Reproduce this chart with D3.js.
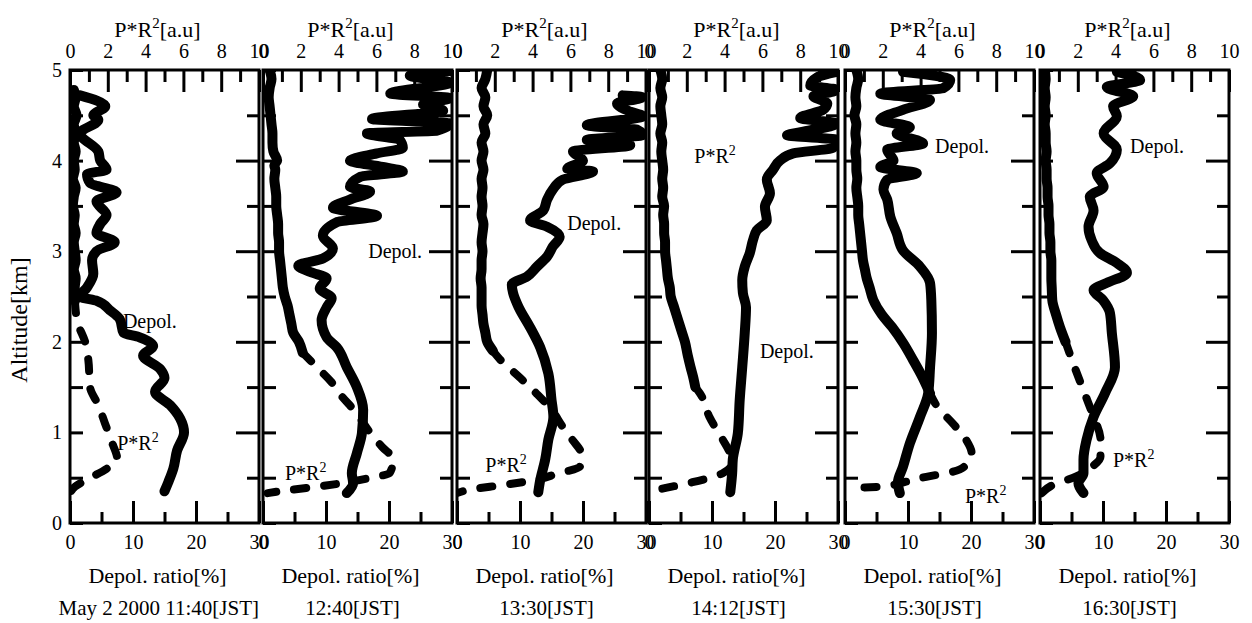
<!DOCTYPE html>
<html>
<head>
<meta charset="utf-8">
<script src="https://cdn.jsdelivr.net/npm/d3@7"></script>
<style>
	body { margin: 0; background: #fff; }
	svg { display: block; font-family: 'Liberation Serif', 'DejaVu Serif', serif; }
</style>
</head>
<body>
<div id="chart"><svg width="1252" height="623"></svg></div>
<script>
var times = ['May 2 2000 11:40[JST]', '12:40[JST]', '13:30[JST]', '14:12[JST]', '15:30[JST]', '16:30[JST]'];
var prTicks = [0, 2, 4, 6, 8, 10];
var prMinorTicks = [1, 3, 5, 7, 9];
var depolTicks = [0, 10, 20, 30];
var depolMinorTicks = [5, 15, 25];
var altTicks = [0, 1, 2, 3, 4, 5];
var altMinorTicks = [0.5, 1.5, 2.5, 3.5, 4.5];

// [altitude km, P*R2 a.u.]
var prSolid1 = [[4.78,0.2],[4.7,0.3],[4.6,0.2],[4.5,0.35],[4.4,0.2],[4.3,0.3],[4.2,0.2],[4.1,0.3],[4.0,0.2],[3.9,0.25],[3.8,0.15],[3.7,0.3],[3.6,0.2],[3.5,0.15],[3.4,0.25],[3.3,0.2],[3.2,0.3],[3.1,0.2],[3.0,0.25],[2.9,0.3],[2.8,0.2],[2.7,0.3],[2.6,0.25],[2.5,0.3],[2.45,0.26]];
var prDash1 = [[2.45,0.26],[2.2,0.42],[2.0,0.8],[1.8,0.97],[1.5,1.06],[1.3,1.5],[1.1,1.85],[0.9,2.2],[0.7,2.5],[0.6,1.95],[0.48,0.9],[0.4,0.26],[0.33,0]];
var prSolid2 = [[5.0,0.35],[4.9,0.45],[4.8,0.35],[4.7,0.3],[4.6,0.35],[4.5,0.4],[4.4,0.45],[4.3,0.5],[4.2,0.5],[4.1,0.55],[4.0,0.75],[3.95,0.6],[3.9,0.65],[3.8,0.6],[3.7,0.65],[3.6,0.7],[3.5,0.7],[3.4,0.75],[3.3,0.8],[3.2,0.8],[3.1,0.85],[3.0,0.85],[2.9,0.9],[2.8,0.95],[2.7,1.0],[2.6,1.05],[2.5,1.15],[2.4,1.3],[2.3,1.4],[2.2,1.5],[2.1,1.6],[2.0,1.9],[1.88,2.1]];
var prDash2 = [[1.88,2.1],[1.72,2.85],[1.56,3.6],[1.39,4.2],[1.25,4.8],[0.99,5.7],[0.84,6.3],[0.7,6.9],[0.55,6.7],[0.5,5.7],[0.44,4.2],[0.4,2.85],[0.36,1.25],[0.33,0.25]];
var prSolid3 = [[5.0,1.6],[4.9,1.5],[4.8,1.3],[4.7,1.5],[4.6,1.4],[4.5,1.6],[4.4,1.4],[4.3,1.5],[4.2,1.3],[4.1,1.4],[4.0,1.3],[3.9,1.4],[3.8,1.3],[3.7,1.35],[3.6,1.3],[3.5,1.35],[3.4,1.3],[3.3,1.4],[3.2,1.35],[3.1,1.3],[3.0,1.35],[2.9,1.3],[2.8,1.3],[2.7,1.25],[2.6,1.3],[2.5,1.3],[2.4,1.3],[2.3,1.35],[2.2,1.4],[2.1,1.5],[2.0,1.6],[1.9,1.9]];
var prDash3 = [[1.9,1.9],[1.8,2.3],[1.61,3.3],[1.43,4.2],[1.25,5.0],[1.06,5.6],[0.92,6.1],[0.75,6.6],[0.62,6.5],[0.55,5.4],[0.47,4.0],[0.42,2.45],[0.37,0.7],[0.33,0]];
var prSolid4 = [[5.0,0.6],[4.9,0.7],[4.8,0.6],[4.7,0.7],[4.6,0.6],[4.5,0.65],[4.4,0.7],[4.3,0.6],[4.2,0.7],[4.1,0.65],[4.0,0.7],[3.9,0.75],[3.8,0.7],[3.7,0.75],[3.6,0.7],[3.5,0.8],[3.4,0.75],[3.3,0.8],[3.2,0.8],[3.1,0.85],[3.0,0.85],[2.9,0.9],[2.8,0.95],[2.7,1.0],[2.6,1.1],[2.5,1.15],[2.4,1.3],[2.3,1.45],[2.2,1.6],[2.1,1.75],[2.0,1.9],[1.85,2.05],[1.72,2.2],[1.6,2.35],[1.5,2.45]];
var prDash4 = [[1.5,2.45],[1.43,2.7],[1.17,3.2],[0.92,3.9],[0.81,4.2],[0.66,4.4],[0.55,3.9],[0.45,2.3],[0.39,0.95],[0.35,0]];
var prSolid5 = [[5.0,0.6],[4.9,0.7],[4.8,0.6],[4.7,0.55],[4.6,0.6],[4.5,0.5],[4.4,0.6],[4.3,0.55],[4.2,0.6],[4.1,0.55],[4.0,0.6],[3.9,0.6],[3.8,0.65],[3.7,0.6],[3.6,0.65],[3.5,0.7],[3.4,0.7],[3.3,0.75],[3.2,0.8],[3.1,0.85],[3.0,0.9],[2.9,0.95],[2.8,1.05],[2.7,1.15],[2.6,1.3],[2.46,1.5],[2.3,1.95],[2.16,2.5],[1.98,3.1],[1.8,3.6],[1.61,4.1],[1.43,4.5]];
var prDash5 = [[1.43,4.5],[1.28,4.9],[1.1,5.7],[0.92,6.4],[0.77,6.7],[0.62,6.3],[0.56,5.6],[0.51,4.3],[0.45,3.1],[0.4,1.85],[0.39,0.8],[0.36,0.1]];
var prSolid6 = [[5.0,0.25],[4.9,0.3],[4.8,0.25],[4.7,0.3],[4.6,0.25],[4.5,0.3],[4.4,0.25],[4.3,0.3],[4.2,0.3],[4.1,0.35],[4.0,0.3],[3.9,0.35],[3.8,0.35],[3.7,0.4],[3.6,0.4],[3.5,0.45],[3.4,0.45],[3.3,0.5],[3.2,0.5],[3.1,0.55],[3.0,0.55],[2.9,0.6],[2.8,0.6],[2.7,0.6],[2.6,0.62],[2.46,0.65],[2.3,0.85],[2.16,1.06],[2.0,1.35]];
var prDash6 = [[2.0,1.35],[1.76,1.76],[1.41,2.4],[1.19,2.8],[0.92,3.2],[0.73,3.2],[0.6,2.6],[0.5,1.76],[0.44,0.9],[0.31,0]];

// [altitude km, depol. ratio %]
var depol1 = [[4.72,1.6],[4.6,5.6],[4.5,3.7],[4.45,4.5],[4.3,1.6],[4.1,4.5],[4.0,4.8],[3.9,5.8],[3.85,2.7],[3.75,3.2],[3.65,7.4],[3.55,4.2],[3.4,5.8],[3.3,4.8],[3.2,4.2],[3.1,7.1],[3.0,4.2],[2.9,3.5],[2.75,3.7],[2.6,2.7],[2.5,1.6],[2.45,4.3],[2.35,6.3],[2.25,7.9],[2.1,8.5],[2.05,11],[1.95,13.2],[1.85,11.6],[1.7,14.3],[1.6,15],[1.45,13.5],[1.3,15.9],[1.15,17.5],[1.0,18.1],[0.8,17],[0.6,16.4],[0.45,15.6],[0.35,15]];
var depol2 = [[4.99,29.7],[4.94,23.3],[4.86,29.7],[4.74,20.2],[4.69,29.7],[4.62,25.4],[4.55,28.6],[4.46,17.3],[4.41,29.7],[4.33,27.6],[4.3,16.5],[4.23,21.7],[4.14,22.2],[4.08,18.1],[4.0,13.8],[3.93,19.0],[3.88,22.2],[3.82,15.4],[3.71,13.8],[3.66,17],[3.57,13.8],[3.48,11.1],[3.39,18.1],[3.32,11.7],[3.17,9.5],[3.03,11.1],[2.92,9.5],[2.84,5.6],[2.77,7.5],[2.7,10.1],[2.59,9.0],[2.48,10.9],[2.38,10.1],[2.24,9.3],[2.05,10.1],[1.94,11.7],[1.72,13.3],[1.5,14.9],[1.25,15.9],[0.99,15.7],[0.77,14.9],[0.55,14.1],[0.44,14.3],[0.33,13.3]];
var depol3 = [[4.72,26.3],[4.7,29.4],[4.63,25.4],[4.54,27.5],[4.49,29.5],[4.39,20.6],[4.34,28.6],[4.28,29.5],[4.23,20.6],[4.17,27.5],[4.1,18.4],[4.0,20],[3.91,17.5],[3.88,21.6],[3.79,16.8],[3.68,15.2],[3.57,14.3],[3.45,13.7],[3.34,11.6],[3.27,14.3],[3.16,16.3],[3.05,15.2],[2.94,14.3],[2.83,12.7],[2.72,11.1],[2.63,8.7],[2.54,8.9],[2.38,9.8],[2.16,11.6],[1.94,13.2],[1.65,14.5],[1.36,15.0],[1.17,15.3],[0.92,14.5],[0.7,14],[0.47,13.2],[0.34,12.9]];
var depol4 = [[4.98,29.8],[4.92,26.7],[4.83,25.6],[4.78,29.8],[4.71,26.1],[4.63,28.3],[4.56,27.6],[4.47,24],[4.41,29.8],[4.32,24.5],[4.28,21.9],[4.23,29.8],[4.14,29.2],[4.08,22.9],[4.0,20.8],[3.9,19.7],[3.79,18.7],[3.64,19.2],[3.49,18.4],[3.34,18.7],[3.23,17.1],[3.12,16.5],[2.98,16],[2.83,15.2],[2.68,14.8],[2.54,14.9],[2.38,15.4],[2.1,15.2],[1.72,14.8],[1.36,14.4],[0.99,14.1],[0.7,13.3],[0.55,13.2],[0.34,12.9]];
var depol5 = [[4.98,9.2],[4.89,16.7],[4.8,15.6],[4.74,5.6],[4.67,13.5],[4.56,9.2],[4.45,5.6],[4.37,10.3],[4.3,8.2],[4.19,12.4],[4.12,6.7],[4.0,7.7],[3.93,5.6],[3.86,11.4],[3.79,6.7],[3.68,6.1],[3.57,6.7],[3.38,7.2],[3.2,8.2],[3.01,9.2],[2.83,11.9],[2.65,13.5],[2.46,13.7],[2.1,13.8],[1.72,13.5],[1.43,13.2],[1.17,11.9],[0.88,10.3],[0.62,9.2],[0.45,8.4],[0.33,8.7]];
var depol6 = [[4.98,12.2],[4.89,15.9],[4.81,10.6],[4.71,14.8],[4.6,11.6],[4.49,12.2],[4.3,10.1],[4.12,12.2],[3.97,11.1],[3.86,9.0],[3.71,10.1],[3.6,7.9],[3.45,8.5],[3.27,7.7],[3.12,8.2],[2.98,9.5],[2.87,12.2],[2.76,13.8],[2.65,10.6],[2.57,8.5],[2.46,10.0],[2.32,11.1],[2.1,11.4],[1.72,11.9],[1.43,10.3],[1.17,8.5],[0.92,7.4],[0.7,6.9],[0.55,6.9],[0.44,6.1],[0.33,6.9]];

// label anchors: [value, altitude]
var depolLabelAt = [[8.4,2.15],[16.7,2.92],[17.5,3.23],[17.6,1.82],[14.3,4.08],[14.3,4.08]];
var prLabelAt = [[2.5,0.81],[1.16,0.47],[1.5,0.56],[2.4,3.97],[6.35,0.22],[3.86,0.62]];

var Chart = {
	top: 70,
	bottom: 523,
	width: 189,
	lefts: [70, 263, 457, 649, 845, 1040],
	font: "'Liberation Serif', 'DejaVu Serif', serif",

	draw: function() {
		const self = this;
		var svg = d3.select('#chart > svg');
		var h = self.bottom - self.top;
		var w = self.width;
		var prData = [[prSolid1, prDash1], [prSolid2, prDash2], [prSolid3, prDash3], [prSolid4, prDash4], [prSolid5, prDash5], [prSolid6, prDash6]];
		var depolData = [depol1, depol2, depol3, depol4, depol5, depol6];

		var yScale = d3.scaleLinear().domain([0, 5]).range([h, 0]);
		var xPr = d3.scaleLinear().domain([0, 10]).range([0, w]);
		var xDep = d3.scaleLinear().domain([0, 30]).range([0, w]);

		var prLine = d3.line()
			.x(function(d) { return xPr(d[1]) })
			.y(function(d) { return yScale(d[0]) })
			.curve(d3.curveMonotoneY);
		var depLine = d3.line()
			.x(function(d) { return xDep(d[1]) })
			.y(function(d) { return yScale(d[0]) })
			.curve(d3.curveMonotoneY);

		function styleAxis(sel) {
			sel.attr('font-family', self.font);
			sel.select('.domain').remove();
			sel.selectAll('.tick line').attr('stroke', '#000').attr('stroke-width', 3);
			sel.selectAll('.tick text').attr('fill', '#000').style('font-size', '20px')
				.style('font-family', self.font);
		}

		self.lefts.forEach(function(left, i) {
			var g = svg.append('g').attr('transform', 'translate(' + [left, self.top] + ')');

			g.append('clipPath').attr('id', 'clip' + i)
				.append('rect').attr('width', w).attr('height', h);

			// axes
			g.append('g').call(d3.axisTop(xPr).tickValues(prTicks).tickSize(-22).tickPadding(12)).call(styleAxis);
			g.append('g').call(d3.axisTop(xPr).tickValues(prMinorTicks).tickSize(-12).tickFormat('')).call(styleAxis);
			g.append('g').attr('transform', 'translate(0,' + h + ')')
				.call(d3.axisBottom(xDep).tickValues(depolTicks).tickSize(-22).tickPadding(12)).call(styleAxis);
			g.append('g').attr('transform', 'translate(0,' + h + ')')
				.call(d3.axisBottom(xDep).tickValues(depolMinorTicks).tickSize(-11).tickFormat('')).call(styleAxis);
			g.append('g').attr('transform', 'translate(' + w + ',0)')
				.call(d3.axisRight(yScale).tickValues(altTicks.slice(1, 5)).tickSize(-23).tickFormat('')).call(styleAxis);
			g.append('g').attr('transform', 'translate(' + w + ',0)')
				.call(d3.axisRight(yScale).tickValues(altMinorTicks).tickSize(-12).tickFormat('')).call(styleAxis);
			var leftAxis = d3.axisLeft(yScale).tickValues(altTicks.concat(altMinorTicks)).tickSize(-13).tickPadding(8)
				.tickFormat(i == 0 ? function(d) { return d % 1 == 0 ? d : '' } : '');
			g.append('g').call(leftAxis).call(styleAxis);

			// frame
			g.append('rect')
				.attr('width', w).attr('height', h)
				.attr('fill', 'none').attr('stroke', '#000').attr('stroke-width', 3);

			// curves
			var plot = g.append('g').attr('clip-path', 'url(#clip' + i + ')');
			plot.append('path').datum(prData[i][0])
				.attr('d', prLine)
				.attr('fill', 'none').attr('stroke', '#000').attr('stroke-width', 10)
				.attr('stroke-linecap', 'round').attr('stroke-linejoin', 'round');
			plot.append('path').datum(prData[i][1])
				.attr('d', prLine)
				.attr('fill', 'none').attr('stroke', '#000').attr('stroke-width', 8)
				.attr('stroke-dasharray', '12,18')
				.attr('stroke-linecap', 'round').attr('stroke-linejoin', 'round');
			plot.append('path').datum(depolData[i])
				.attr('d', depLine)
				.attr('fill', 'none').attr('stroke', '#000').attr('stroke-width', 10)
				.attr('stroke-linecap', 'round').attr('stroke-linejoin', 'round');

			// in-plot labels
			g.append('text')
				.attr('x', xDep(depolLabelAt[i][0])).attr('y', yScale(depolLabelAt[i][1]))
				.style('font-size', '20px').text('Depol.');
			var pt = g.append('text')
				.attr('x', xPr(prLabelAt[i][0])).attr('y', yScale(prLabelAt[i][1]))
				.style('font-size', '20px');
			pt.append('tspan').text('P*R');
			pt.append('tspan').attr('dy', -8).style('font-size', '14px').text('2');

			// titles
			var tt = g.append('text')
				.attr('x', w / 2 - 7).attr('y', -33)
				.attr('text-anchor', 'middle').style('font-size', '22px');
			tt.append('tspan').text('P*R');
			tt.append('tspan').attr('dy', -9).style('font-size', '15px').text('2');
			tt.append('tspan').attr('dy', 9).text('[a.u]');

			g.append('text')
				.attr('x', w / 2 - 7).attr('y', h + 60)
				.attr('text-anchor', 'middle').style('font-size', '22px')
				.text('Depol. ratio[%]');

			g.append('text')
				.attr('x', i == 0 ? w : w / 2 - 5).attr('y', h + 92)
				.attr('text-anchor', i == 0 ? 'end' : 'middle').style('font-size', '21px')
				.text(times[i]);
		});

		svg.append('text')
			.attr('transform', 'translate(27,320) rotate(-90)')
			.attr('text-anchor', 'middle').style('font-size', '24px')
			.text('Altitude[km]');
	}
};

Chart.draw();
</script>
</body>
</html>
